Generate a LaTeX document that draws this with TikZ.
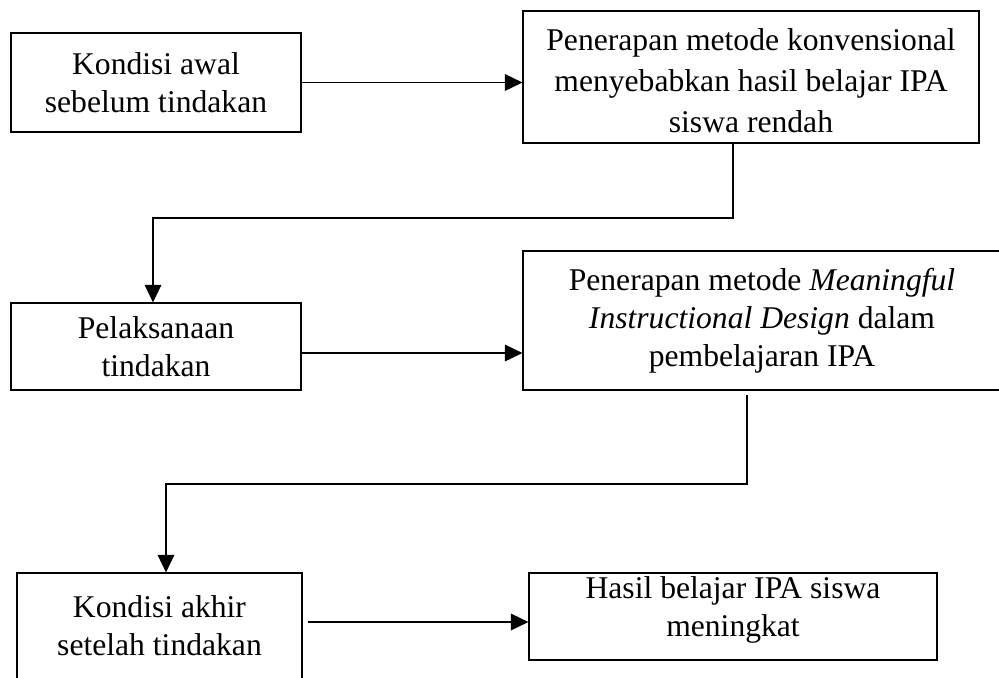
\documentclass[tikz,border=0pt]{standalone}
\usepackage{fontspec}
\setmainfont{Liberation Serif}
\usetikzlibrary{arrows.meta, positioning}

\begin{document}
\begin{tikzpicture}[x=0.02cm, y=-0.02cm, >={Triangle[length=10pt,width=9.5pt]},
    line width=0.7pt,
    box/.style={draw, align=center, inner sep=0pt, font=\fontsize{18}{21.5}\selectfont}]
    \useasboundingbox (0,0) rectangle (999,677);
    \node[box, minimum width=5.8cm, minimum height=1.98cm] (awal) at (156,82.5) {Kondisi awal\\ sebelum tindakan};
    \node[box, minimum width=9.12cm, minimum height=2.64cm, font=\fontsize{18}{23.3}\selectfont] (konv) at (751,77) {\rule{0pt}{0.6cm}Penerapan metode konvensional\\ menyebabkan hasil belajar IPA\\ siswa rendah};
    \node[box, minimum width=5.8cm, minimum height=1.74cm] (laksana) at (156,346.5) {Pelaksanaan\\ tindakan};
    \node[box, minimum width=9.56cm, minimum height=2.78cm] (mid) at (762,320.5) {Penerapan metode \textit{Meaningful}\\ \textit{Instructional Design} dalam\\ pembelajaran IPA};
    \node[box, minimum width=5.7cm, minimum height=2.12cm] (akhir) at (159.5,626) {Kondisi akhir\\ setelah tindakan};
    \node[box, minimum width=8.16cm, minimum height=1.74cm] (hasil) at (733,616.5) {Hasil belajar IPA siswa\\ meningkat\rule[-0.4cm]{0pt}{0pt}};
    % bends and arrow heights
    \coordinate (c1) at (733,218);
    \coordinate (c2) at (153,218);
    \coordinate (c3) at (747,484);
    \coordinate (c4) at (166,484);
    \coordinate (h2) at (0,353);
    \coordinate (h3) at (0,622);
    \draw[->] (awal.east) -- (awal.east -| konv.west);
    \draw[->] (konv.south -| c1) -- (c1) -- (c2) -- (laksana.north -| c2);
    \draw[->] (laksana.east |- h2) -- (mid.west |- h2);
    \draw[->, shorten <=0.08cm] (mid.south -| c3) -- (c3) -- (c4) -- (akhir.north -| c4);
    \draw[->, shorten <=0.1cm] (akhir.east |- h3) -- (hasil.west |- h3);
\end{tikzpicture}
\end{document}
